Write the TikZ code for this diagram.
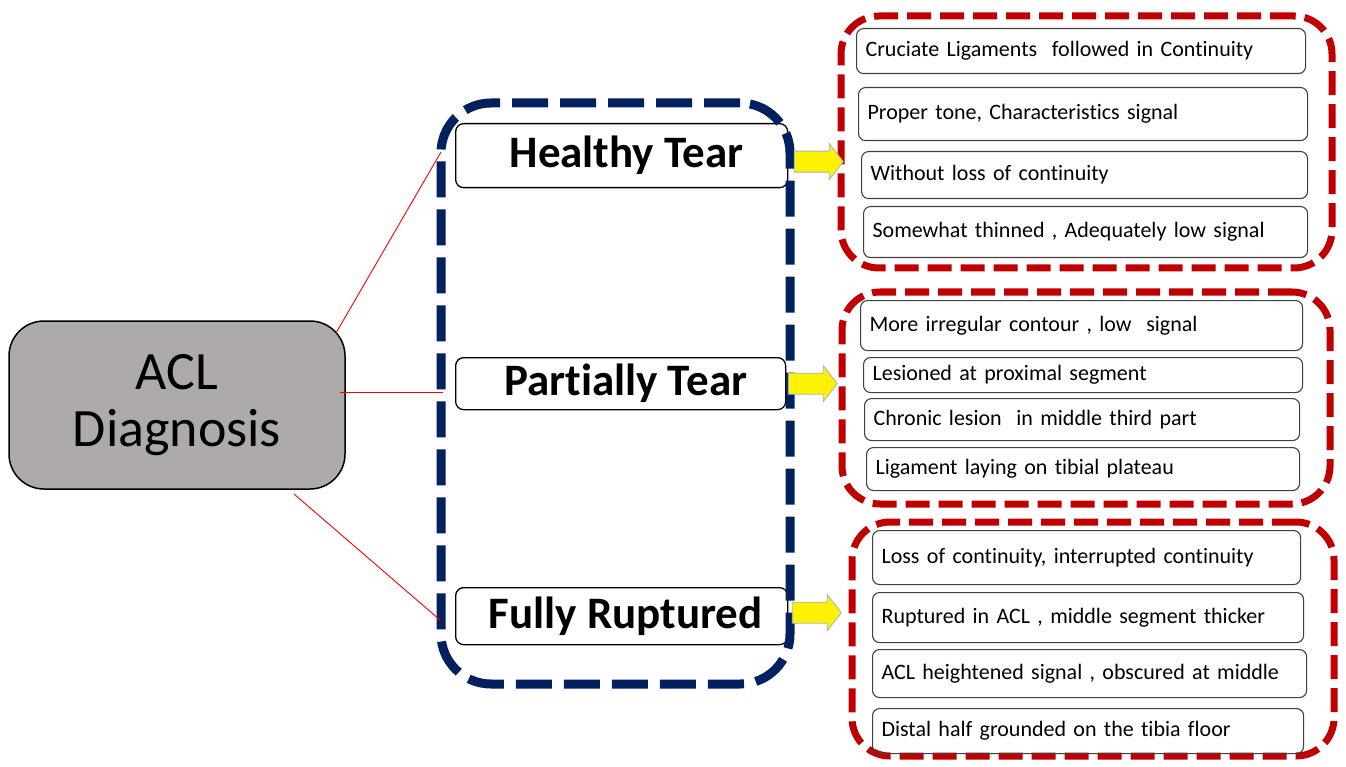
\documentclass[tikz,border=0pt]{standalone}
\usepackage{fontspec}
\setmainfont{Carlito}[Ligatures=NoCommon]
\usetikzlibrary{calc}
\definecolor{navyb}{HTML}{002060}
\definecolor{darkr}{HTML}{C00000}
\definecolor{aclgray}{HTML}{AEAAAA}
\definecolor{arrowedge}{HTML}{9DB3C8}
\newcommand\yarr[1]{\draw[yarrow] (#1) ++(0,-10.5) -- ++(35,0) -- ++(0,-7.5) -- ++(14,18) -- ++(-14,18) -- ++(0,-7.5) -- ++(-35,0) -- cycle;}
\begin{document}
\begin{tikzpicture}[x=1pt,y=-1pt,
  item/.style={draw=black!75, line width=1.1pt, rounded corners=7pt, inner xsep=9pt, inner ysep=0pt,
    align=left, anchor=north west, font=\fontsize{22}{26}\selectfont},
  lab/.style={draw=black, line width=1.3pt, rounded corners=8pt, fill=white,
    font=\bfseries\fontsize{45}{50}\selectfont, anchor=north west, inner sep=0pt},
  bluebox/.style={draw=navyb, line width=9pt, dash pattern=on 36pt off 12pt, rounded corners=50pt, inner sep=0pt},
  redbox/.style={draw=darkr, line width=7pt, dash pattern=on 24pt off 9pt, rounded corners=38pt, inner sep=0pt},
  acl/.style={draw=black, line width=1.5pt, fill=aclgray, rounded corners=35pt, align=center,
    font=\fontsize{54}{57}\selectfont},
  redline/.style={draw=red, line width=0.9pt},
  yarrow/.style={fill=yellow, draw=arrowedge, line width=0.8pt, line join=miter}
]
\useasboundingbox (0,0) rectangle (1346,767);

% ACL box
\node[acl, minimum width=336pt, minimum height=168pt] (acl) at (177,405) {ACL\\Diagnosis};

% category labels
\node[lab, minimum width=332pt, minimum height=64pt] (ht) at (455,123) {\hspace*{10pt}Healthy Tear};
\node[lab, minimum width=330pt, minimum height=52pt] (pt) at (455,357) {\hspace*{10pt}Partially Tear};
\node[lab, minimum width=332pt, minimum height=57pt] (fr) at (455,587) {\hspace*{8pt}Fully Ruptured};

% blue container
\node[bluebox, minimum width=349pt, minimum height=581pt] (blue) at (615.5,393.5) {};

% red connectors
\coordinate (l1s) at (336,333);
\coordinate (l1e) at (441,152);
\coordinate (l2s) at (340,392);
\coordinate (l2e) at (443,392);
\coordinate (l3s) at (294,494);
\coordinate (l3e) at (440,620);
\draw[redline] (l1s) -- (l1e);
\draw[redline] (l2s) -- (l2e);
\draw[redline] (l3s) -- (l3e);

% red containers
\node[redbox, minimum width=491pt, minimum height=252pt] (r1) at (1086.5,142) {};
\node[redbox, minimum width=488pt, minimum height=212pt] (r2) at (1086,398) {};
\node[redbox, minimum width=482pt, minimum height=234pt] (r3) at (1093,639) {};

% yellow arrows
\path (ht.east) ++(6,6) coordinate (a1);
\path (pt.east) ++(2,0) coordinate (a2);
\path (fr.east) ++(4,-3.5) coordinate (a3);
\yarr{a1}
\yarr{a2}
\yarr{a3}

% items
\node[item, text width=431pt, minimum height=45pt] (i1a) at (856,28) {Cruciate Ligaments\ \ followed in Continuity};
\node[item, text width=431pt, minimum height=53pt] (i1b) at (858,87) {Proper tone, Characteristics signal};
\node[item, text width=428pt, minimum height=47pt] (i1c) at (861,151) {Without loss of continuity};
\node[item, text width=426pt, minimum height=51pt] (i1d) at (863,206) {Somewhat thinned , Adequately low signal};

\node[item, text width=424pt, minimum height=50pt] (i2a) at (860,300) {More irregular contour , low\ \ signal};
\node[item, text width=421pt, minimum height=35pt] (i2b) at (863,357) {Lesioned at proximal segment};
\node[item, text width=417pt, minimum height=42pt] (i2c) at (864,398) {Chronic lesion\ \ in middle third part};
\node[item, text width=415pt, minimum height=43pt] (i2d) at (866,447) {Ligament laying on tibial plateau};

\node[item, text width=410pt, minimum height=54pt] (i3a) at (872,530) {Loss of continuity, interrupted continuity};
\node[item, text width=413pt, minimum height=50pt] (i3b) at (872,592) {Ruptured in ACL , middle segment thicker};
\node[item, text width=416pt, minimum height=48pt] (i3c) at (872,649) {ACL heightened signal , obscured at middle};
\node[item, text width=413pt, minimum height=45pt] (i3d) at (872,708) {Distal half grounded on the tibia floor};
\end{tikzpicture}
\end{document}
